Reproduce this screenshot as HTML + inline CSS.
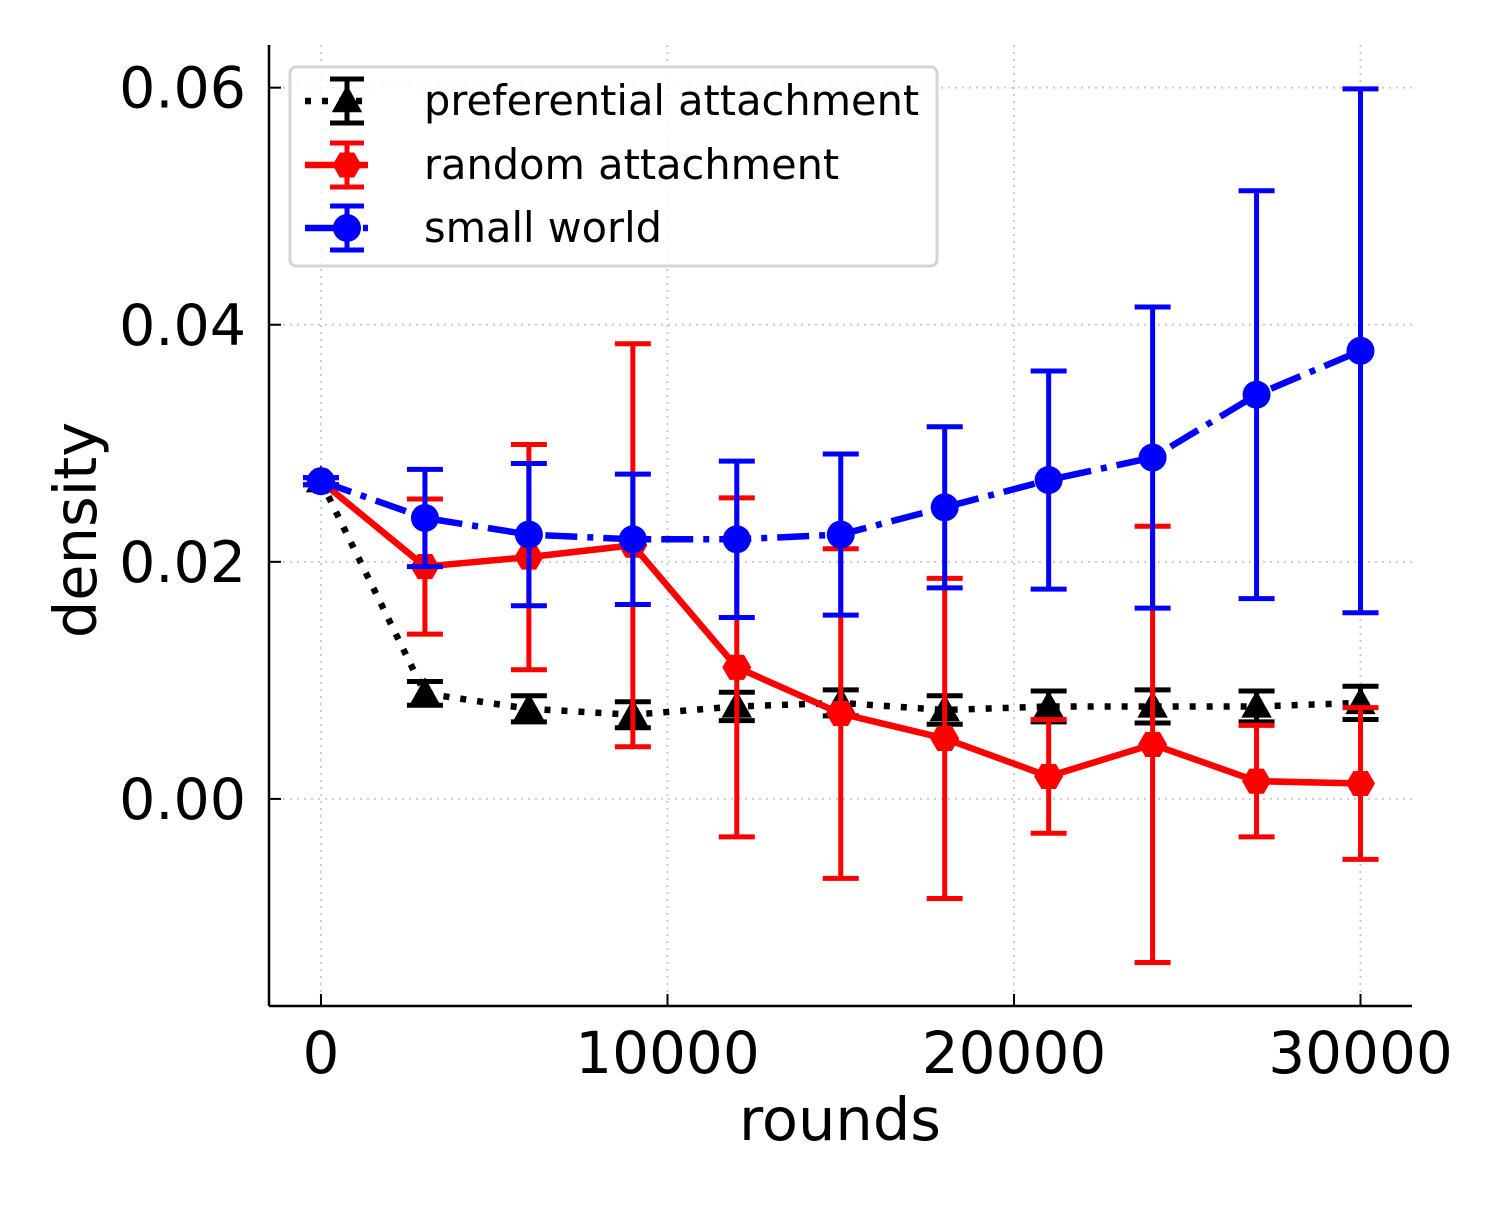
<!DOCTYPE html>
<html><head><meta charset="utf-8"><style>
body{margin:0;background:#fff}
svg text{font-family:"DejaVu Sans","Liberation Sans",sans-serif}
</style></head><body>
<svg id="chart" width="1500" height="1200" xmlns="http://www.w3.org/2000/svg">
<g id="grid"></g>
<g id="axes"></g>
<g id="series"></g>
<g id="legend"></g>
</svg>
<script>
const rounds=[0,3000,6000,9000,12000,15000,18000,21000,24000,27000,30000];
const prefVals=[0.0268,0.0089,0.0076,0.0071,0.0078,0.0081,0.0075,0.0078,0.0078,0.0078,0.0081];
const prefErr=[0.0003,0.0010,0.0011,0.0011,0.0012,0.0011,0.0012,0.0013,0.0014,0.0013,0.0014];
const randVals=[0.0268,0.0196,0.0204,0.0214,0.0111,0.0072,0.0051,0.0019,0.0046,0.0015,0.0013];
const randErr=[0.0003,0.0057,0.0095,0.0170,0.0143,0.0139,0.0135,0.0048,0.0184,0.0047,0.0064];
const swVals=[0.0268,0.0237,0.0223,0.0219,0.0219,0.0223,0.0246,0.0269,0.0288,0.0341,0.0378];
const swErr=[0.0003,0.0041,0.0060,0.0055,0.0066,0.0068,0.0068,0.0092,0.0127,0.0172,0.0221];
const xTicks=[0,10000,20000,30000];
const xTickLabels=["0","10000","20000","30000"];
const yTicks=[0,0.02,0.04,0.06];
const yTickLabels=["0.00","0.02","0.04","0.06"];

const NS="http://www.w3.org/2000/svg";
const L=269,R=1412,T=45,B=1006;
const xMin=-1500,xMax=31486,yMin=-0.01747,yMax=0.0636;
const X=v=>L+(v-xMin)/(xMax-xMin)*(R-L);
const Y=v=>B-(v-yMin)/(yMax-yMin)*(B-T);
function mk(tag,attrs,parent,text){const e=document.createElementNS(NS,tag);for(const k in attrs)e.setAttribute(k,attrs[k]);if(text!==undefined)e.textContent=text;parent.appendChild(e);return e;}
const grid=document.getElementById('grid'),axes=document.getElementById('axes'),ser=document.getElementById('series'),leg=document.getElementById('legend');

xTicks.forEach((t,i)=>{
 const g=mk('line',{x1:X(t),x2:X(t),y1:T,y2:B,stroke:'#ccc','stroke-width':2,'stroke-dasharray':'2,5'},grid);
 
 const tk=mk('line',{x1:X(t),x2:X(t),y1:B,y2:B-12,stroke:'#000','stroke-width':2},axes);
 
 const lb=mk('text',{x:X(t),y:B+67,'font-size':58,'text-anchor':'middle'},axes,xTickLabels[i]);
 
});
yTicks.forEach((t,i)=>{
 const g=mk('line',{x1:L,x2:R,y1:Y(t),y2:Y(t),stroke:'#ccc','stroke-width':2,'stroke-dasharray':'2,5'},grid);
 
 const tk=mk('line',{x1:L,x2:L+12,y1:Y(t),y2:Y(t),stroke:'#000','stroke-width':2},axes);
 
 const lb=mk('text',{x:L-23,y:Y(t)+20,'font-size':57,'text-anchor':'end'},axes,yTickLabels[i]);
 
});
let s=mk('line',{x1:L,x2:L,y1:T,y2:B,stroke:'#000','stroke-width':2.5},axes);

s=mk('line',{x1:L,x2:R,y1:B,y2:B,stroke:'#000','stroke-width':2.5},axes);

s=mk('text',{x:840,y:1140,'font-size':59,'text-anchor':'middle'},axes,'rounds');

s=mk('text',{x:96,y:530,'font-size':59,'text-anchor':'middle',transform:'rotate(-90 96 530)'},axes,'density');


function marker(type,cx,cy,color,parent){
 let e;
 if(type==='tri'){const r=16;e=mk('polygon',{points:`${cx},${cy-r} ${cx-r*0.95},${cy+r*0.7} ${cx+r*0.95},${cy+r*0.7}`,fill:color},parent);}
 else if(type==='hex'){const r=14.5;let p=[];for(let k=0;k<6;k++){const a=Math.PI/3*k;p.push((cx+r*Math.cos(a))+','+(cy+r*Math.sin(a)));}e=mk('polygon',{points:p.join(' '),fill:color},parent);}
 else e=mk('circle',{cx:cx,cy:cy,r:14,fill:color},parent);
 return e;
}
function drawSeries(name,vals,errs,color,dash,mtype){
 const g=mk('g',{},ser);
 rounds.forEach((r,i)=>{
  const x=X(r),y1=Y(vals[i]+errs[i]),y2=Y(vals[i]-errs[i]);
  const eb=mk('path',{d:`M${x},${y1}V${y2}M${x-18},${y1}H${x+18}M${x-18},${y2}H${x+18}`,stroke:color,'stroke-width':5,fill:'none'},g);
  
 });
 const ln=mk('polyline',{points:rounds.map((r,i)=>X(r)+','+Y(vals[i])).join(' '),fill:'none',stroke:color,'stroke-width':6.5,'stroke-dasharray':dash},g);
 
 rounds.forEach((r,i)=>{const m=marker(mtype,X(r),Y(vals[i]),color,g);
  });
}
drawSeries('preferential-attachment',prefVals,prefErr,'#000','6,11','tri');
drawSeries('random-attachment',randVals,randErr,'#f00','none','hex');
drawSeries('small-world',swVals,swErr,'#00f','32,10,6,10','circ');

s=mk('rect',{x:290,y:67,width:647,height:199,rx:6,fill:'#fff','fill-opacity':0.8,stroke:'#d5d5d5','stroke-width':3},leg);

[['preferential attachment','#000','6,11','tri',101],['random attachment','#f00','none','hex',165],['small world','#00f','32,10,6,10','circ',228]].forEach(d=>{
 const g=mk('g',{},leg);
 mk('line',{x1:305,x2:368,y1:d[4],y2:d[4],stroke:d[1],'stroke-width':6.5,'stroke-dasharray':d[2]},g);
 mk('path',{d:`M347,${d[4]-22}V${d[4]+22}M330,${d[4]-22}H364M330,${d[4]+22}H364`,stroke:d[1],'stroke-width':5,fill:'none'},g);
 marker(d[3],347,d[4],d[1],g);
 mk('text',{x:424,y:d[4]+14,'font-size':41.5},g,d[0]);
});
</script>
</body></html>
